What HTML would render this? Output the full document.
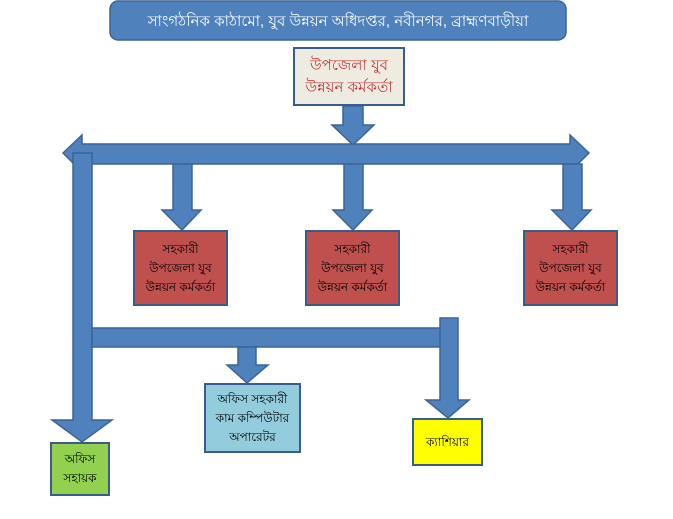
<!DOCTYPE html>
<html><head><meta charset="utf-8"><style>
body{margin:0;background:#fff;width:673px;height:519px;overflow:hidden;position:relative;font-family:"Liberation Sans","Noto Sans CJK SC",sans-serif}
.b{position:absolute;box-sizing:border-box;border:2px solid #385d8a;display:flex;align-items:center;justify-content:center;text-align:center;font-size:12px;line-height:19px;color:#000}
svg{position:absolute;left:0;top:0}
</style></head><body>
<svg width="673" height="519">
<g fill="#4f81bd" stroke="#3c6496" stroke-width="1.5">
<rect x="110" y="1" width="456" height="39" rx="8"/>
<polygon points="343,106 363,106 363,125 374,125 353,145 332,125 343,125"/>
<polygon points="63,153 82,135 82,144 570,144 570,135 589,153 570,172 570,164 82,164 82,172"/>
<polygon points="73,153 92,153 92,420 112,420 82,442 52,420 73,420"/>
<polygon points="173,164 192,164 192,210 201,210 182,230 162,210 173,210"/>
<polygon points="344,164 363,164 363,210 372,210 353,230 333,210 344,210"/>
<polygon points="563,164 582,164 582,210 591,210 572,230 552,210 563,210"/>
<rect x="92" y="328" width="350" height="19"/>
<polygon points="238,347 256,347 256,365 268,365 247,383 227,365 238,365"/>
<polygon points="440,318 458,318 458,400 469,400 448,418 426,400 440,400"/>
</g>
<text x="338" y="26" fill="#fff" font-size="15" text-anchor="middle" font-family="Liberation Sans, Noto Sans CJK SC, sans-serif">সাংগঠনিক কাঠামো, যুব উন্নয়ন অধিদপ্তর, নবীনগর, ব্রাহ্মণবাড়ীয়া</text>
</svg>
<div class="b" style="left:293px;top:47px;width:112px;height:59px;background:#eeece1;color:#c0393b;font-size:15px;line-height:22px">উপজেলা যুব<br>উন্নয়ন কর্মকর্তা</div>
<div class="b" style="left:133px;top:230px;width:95px;height:76px;background:#c0504d">সহকারী<br>উপজেলা যুব<br>উন্নয়ন কর্মকর্তা</div>
<div class="b" style="left:305px;top:230px;width:95px;height:76px;background:#c0504d">সহকারী<br>উপজেলা যুব<br>উন্নয়ন কর্মকর্তা</div>
<div class="b" style="left:523px;top:230px;width:95px;height:76px;background:#c0504d">সহকারী<br>উপজেলা যুব<br>উন্নয়ন কর্মকর্তা</div>
<div class="b" style="left:204px;top:383px;width:97px;height:70px;background:#93cddd">অফিস সহকারী<br>কাম কম্পিউটার<br>অপারেটর</div>
<div class="b" style="left:412px;top:418px;width:71px;height:48px;background:#ffff00">ক্যাশিয়ার</div>
<div class="b" style="left:50px;top:442px;width:60px;height:54px;background:#92d050">অফিস<br>সহায়ক</div>
</body></html>
